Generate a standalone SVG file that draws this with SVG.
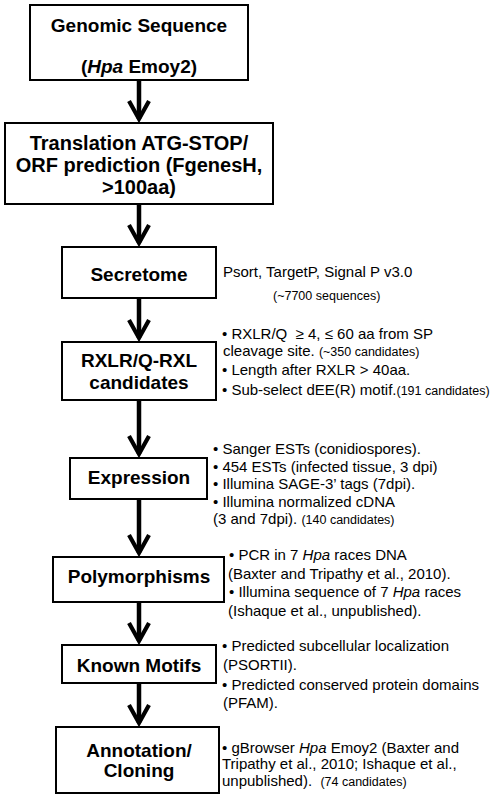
<svg xmlns="http://www.w3.org/2000/svg" width="497" height="800" viewBox="0 0 497 800">
<style>
.box{fill:#fff;stroke:#000;stroke-width:2}
.t{font-family:"Liberation Sans",Arial,sans-serif;font-weight:bold;font-size:19px;fill:#000;text-anchor:middle}
.t2{font-size:20px}
.d{font-family:"Liberation Sans",Arial,sans-serif;font-size:15px;fill:#000}
.s{font-size:12.5px}
.i{font-style:italic}
.c{stroke:#000;stroke-width:4.5;fill:none}
</style>
<defs>
<marker id="ah" markerUnits="userSpaceOnUse" orient="auto" overflow="visible" refX="0" refY="0" markerWidth="20" markerHeight="22">
<path d="M-18,-10 L0,0 L-18,10" fill="none" stroke="#000" stroke-width="4.2"/>
</marker>
</defs>
<rect width="497" height="800" fill="#fff"/>
<g id="connectors">
<line class="c" x1="139" y1="80" x2="139" y2="119" marker-end="url(#ah)"/>
<line class="c" x1="139" y1="204" x2="139" y2="243" marker-end="url(#ah)"/>
<line class="c" x1="139" y1="298" x2="139" y2="338" marker-end="url(#ah)"/>
<line class="c" x1="139" y1="400" x2="139" y2="454" marker-end="url(#ah)"/>
<line class="c" x1="139" y1="499" x2="139" y2="553" marker-end="url(#ah)"/>
<line class="c" x1="139" y1="602" x2="139" y2="641" marker-end="url(#ah)"/>
<line class="c" x1="139" y1="683" x2="139" y2="723" marker-end="url(#ah)"/>
</g>
<g id="genomic">
<rect class="box" x="30" y="5" width="218" height="75"/>
<text class="t" x="139" y="32">Genomic Sequence</text>
<text class="t" x="139" y="73">(<tspan class="i">Hpa</tspan> Emoy2)</text>
</g>
<g id="translation">
<rect class="box" x="5" y="123" width="268" height="81"/>
<text class="t t2" x="139" y="150">Translation ATG-STOP/</text>
<text class="t t2" x="139" y="172">ORF prediction (FgenesH,</text>
<text class="t t2" x="139" y="194">&gt;100aa)</text>
</g>
<g id="secretome">
<rect class="box" x="62" y="247" width="154" height="51"/>
<text class="t" x="139" y="281">Secretome</text>
<text class="d" x="223" y="277">Psort, TargetP, Signal P v3.0</text>
<text class="d s" x="273" y="300">(~7700 sequences)</text>
</g>
<g id="rxlr">
<rect class="box" x="62" y="342" width="154" height="58"/>
<text class="t" x="139" y="367">RXLR/Q-RXL</text>
<text class="t" x="139" y="389">candidates</text>
<text class="d" x="222" y="339">• RXLR/Q &#160;≥ 4, ≤ 60 aa from SP</text>
<text class="d" x="223" y="356">cleavage site. <tspan class="s">(~350 candidates)</tspan></text>
<text class="d" x="222" y="375">• Length after RXLR &gt; 40aa.</text>
<text class="d" x="222" y="395">• Sub-select dEE(R) motif.<tspan class="s">(191 candidates)</tspan></text>
</g>
<g id="expression">
<rect class="box" x="70" y="458" width="137" height="41"/>
<text class="t" x="139" y="484">Expression</text>
<text class="d" x="213" y="454">• Sanger ESTs (conidiospores).</text>
<text class="d" x="213" y="471.5">• 454 ESTs (infected tissue, 3 dpi)</text>
<text class="d" x="213" y="489">• Illumina SAGE-3’ tags (7dpi).</text>
<text class="d" x="213" y="506.5">• Illumina normalized cDNA</text>
<text class="d" x="213" y="524">(3 and 7dpi). <tspan class="s">(140 candidates)</tspan></text>
</g>
<g id="polymorphisms">
<rect class="box" x="53" y="557" width="171" height="45"/>
<text class="t" x="139" y="583">Polymorphisms</text>
<text class="d" x="229" y="560">• PCR in 7 <tspan class="i">Hpa</tspan> races DNA</text>
<text class="d" x="228" y="579">(Baxter and Tripathy et al., 2010).</text>
<text class="d" x="229" y="597">• Illumina sequence of 7 <tspan class="i">Hpa</tspan> races</text>
<text class="d" x="228" y="616">(Ishaque et al., unpublished).</text>
</g>
<g id="motifs">
<rect class="box" x="62" y="645" width="154" height="38"/>
<text class="t" x="139" y="672">Known Motifs</text>
<text class="d" x="222" y="651">• Predicted subcellular localization</text>
<text class="d" x="223" y="670">(PSORTII).</text>
<text class="d" x="222" y="690">• Predicted conserved protein domains</text>
<text class="d" x="223" y="708">(PFAM).</text>
</g>
<g id="annotation">
<rect class="box" x="56" y="727" width="163" height="66"/>
<text class="t" x="139" y="757">Annotation/</text>
<text class="t" x="139" y="777">Cloning</text>
<text class="d" x="222" y="753">• gBrowser <tspan class="i">Hpa</tspan> Emoy2 (Baxter and</text>
<text class="d" x="222" y="769">Tripathy et al., 2010; Ishaque et al.,</text>
<text class="d" x="222" y="786">unpublished). &#160;<tspan class="s">(74 candidates)</tspan></text>
</g>
</svg>
